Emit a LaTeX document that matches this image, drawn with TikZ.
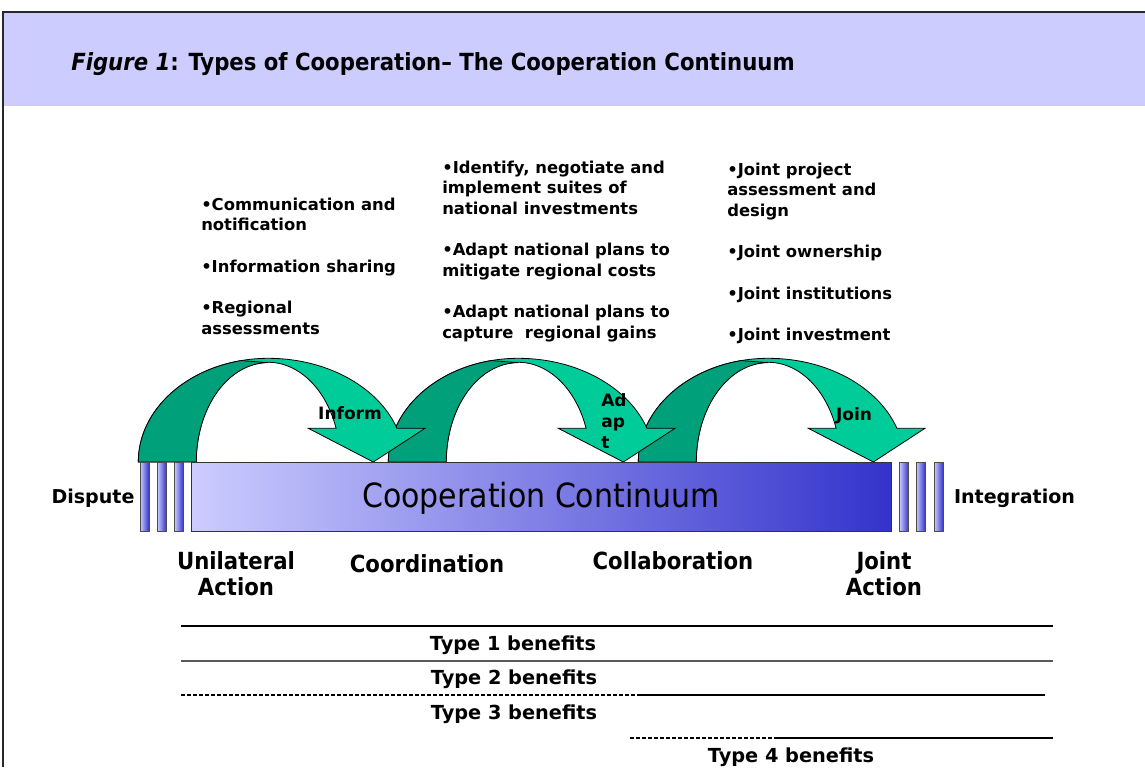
\documentclass[tikz,border=0pt]{standalone}
\usepackage{fontspec}
\setmainfont{DejaVu Sans}
\newfontfamily\condfont{DejaVu Sans Condensed}
\definecolor{hdr}{RGB}{204,204,255}
\definecolor{darkg}{RGB}{0,160,122}
\definecolor{lightg}{RGB}{0,204,153}
\definecolor{barL}{RGB}{204,204,255}
\definecolor{barM}{RGB}{150,150,228}
\definecolor{barR}{RGB}{51,51,204}
\definecolor{frame}{RGB}{40,40,40}
\tikzset{
  bul/.style={anchor=north west, inner sep=0pt, align=left, font=\bfseries\fontsize{12.3}{15.5}\selectfont},
  arrlabel/.style={inner sep=0pt, font=\bfseries\fontsize{12.75}{15.75}\selectfont},
  stagelabel/.style={inner sep=0pt, align=center, font=\condfont\bfseries\fontsize{17.7}{19.5}\selectfont},
  endlabel/.style={inner sep=0pt, font=\bfseries\fontsize{14.3}{16}\selectfont},
  benlabel/.style={inner sep=0pt, font=\bfseries\fontsize{14.5}{16}\selectfont},
  smallbar/.style={left color=barL, right color=barR, draw=black!70, line width=0.6pt},
  arrowpart/.style={draw=black, line width=0.6pt},
  benline/.style={line width=0.9pt, draw=black},
  bendash/.style={line width=0.8pt, draw=black, dash pattern=on 3pt off 1.5pt},
}
\newcommand\coopArrow[1]{%
\begin{scope}[shift={(#1,0)}]
  \filldraw[arrowpart, fill=lightg] (138.3,462)
    arc[start angle=180, end angle=270, x radius=130, y radius=103.7]
    arc[start angle=270, end angle=341, x radius=136, y radius=103.7]
    -- (425,428.3) -- (373.3,462) -- (308.3,428.3) -- (336.1,428.3)
    arc[start angle=340.4, end angle=180, x radius=72, y radius=99.3]
    -- cycle;
  \filldraw[arrowpart, fill=darkg] (138.3,462)
    arc[start angle=180, end angle=258, x radius=130, y radius=103.7]
    -- (268.3,362.7)
    arc[start angle=270, end angle=180, x radius=72, y radius=99.3]
    -- cycle;
\end{scope}}
\begin{document}
\begin{tikzpicture}[x=0.75pt, y=-0.75pt]
\useasboundingbox (0,0) rectangle (1145,767);
% header
\fill[hdr] (4,13) rectangle (1145,106);
\draw[frame, line width=1.5pt] (3,767) -- (3,12) -- (1145,12);
\node[anchor=base west, inner sep=0pt, font=\condfont\bfseries\fontsize{17.7}{20}\selectfont] (title) at (71,70)
  {\itshape Figure 1\upshape: Types of Cooperation– The Cooperation Continuum};
% bullet blocks
\node[bul] (b1) at (201,197.5) {•Communication and\\notification\\[15.5pt]•Information sharing\\[15.5pt]•Regional\\assessments};
\node[bul] (b2) at (442,160.5) {•Identify, negotiate and\\implement suites of\\national investments\\[15.5pt]•Adapt national plans to\\mitigate regional costs\\[15.5pt]•Adapt national plans to\\capture\ \ regional gains};
\node[bul] (b3) at (727,162.5) {•Joint project\\assessment and\\design\\[15.5pt]•Joint ownership\\[15.5pt]•Joint institutions\\[15.5pt]•Joint investment};
% arrows
\coopArrow{500}
\coopArrow{250}
\coopArrow{0}
% small bars
\foreach \x [count=\i] in {140,157.3,174.3}
  \draw[smallbar] (\x,462) rectangle ++(9,69.5);
\foreach \x [count=\i] in {899.3,916,934}
  \draw[smallbar] (\x,462) rectangle ++(9.3,69.5);
% main bar
\draw[left color=barL, middle color=barM, right color=barR, draw=black!80, line width=0.6pt] (191.7,462) rectangle (891.7,531.7);
\node[inner sep=0pt, font=\condfont\fontsize{25}{30}\selectfont] (cc) at (541,498) {Cooperation Continuum};
% arrow labels
\node[arrlabel] (inform) at (350,413) {Inform};
\node[arrlabel, anchor=north west, align=left] (adapt) at (601,393) {Ad\\ap\\t};
\node[arrlabel] (join) at (854,416) {Join};
% end labels
\node[endlabel] (dispute) at (93,498) {Dispute};
\node[endlabel] (integ) at (1014.5,498) {Integration};
% stage labels
\node[stagelabel] (unil) at (236,574) {Unilateral\\Action};
\node[stagelabel] (coord) at (427,564) {Coordination};
\node[stagelabel] (collab) at (673,561) {Collaboration};
\node[stagelabel] (joint) at (884,574) {Joint\\Action};
% benefit lines
\coordinate (l1a) at (181,626); \coordinate (l1b) at (1053,626);
\coordinate (l2a) at (181,661); \coordinate (l2b) at (1053,661);
\coordinate (l3a) at (181,695); \coordinate (l3m) at (638,695); \coordinate (l3b) at (1045,695);
\coordinate (l4a) at (630,738); \coordinate (l4m) at (777,738); \coordinate (l4b) at (1053,738);
\draw[benline] (l1a) -- (l1b);
\draw[benline, draw=black!65] (l2a) -- (l2b);
\draw[bendash] (l3a) -- (l3m);
\draw[benline] (l3m) -- (l3b);
\draw[bendash] (l4a) -- (l4m);
\draw[benline] (l4m) -- (l4b);
\node[benlabel] (t1) at (513,645) {Type 1 benefits};
\node[benlabel] (t2) at (514,679) {Type 2 benefits};
\node[benlabel] (t3) at (514,714) {Type 3 benefits};
\node[benlabel] (t4) at (791,757) {Type 4 benefits};
\end{tikzpicture}
\end{document}
